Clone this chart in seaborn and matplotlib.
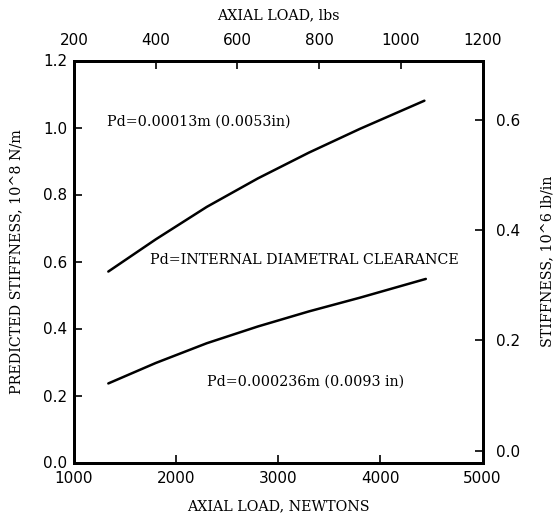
import matplotlib
matplotlib.use("Agg")
import matplotlib.pyplot as plt
import seaborn as sns
import pandas as pd

# Data
load_n_upper = [1336, 1800, 2300, 2800, 3300, 3800, 4431]
stiff_upper = [0.570, 0.666, 0.763, 0.848, 0.925, 0.996, 1.080]
load_n_lower = [1336, 1800, 2300, 2800, 3300, 3800, 4445]
stiff_lower = [0.236, 0.297, 0.356, 0.406, 0.451, 0.492, 0.548]

bottom_ticks = [1000, 2000, 3000, 4000, 5000]
left_ticks = [0.0, 0.2, 0.4, 0.6, 0.8, 1.0, 1.2]
top_ticks = [200, 400, 600, 800, 1000, 1200]
right_ticks = [0.0, 0.2, 0.4, 0.6]

label_upper = "Pd=0.00013m (0.0053in)"
label_mid = "Pd=INTERNAL DIAMETRAL CLEARANCE"
label_lower = "Pd=0.000236m (0.0093 in)"

df = pd.concat([
    pd.DataFrame({"load": load_n_upper, "stiff": stiff_upper, "case": "upper"}),
    pd.DataFrame({"load": load_n_lower, "stiff": stiff_lower, "case": "lower"}),
])

sns.set_style("ticks")
plt.rcParams["font.family"] = ["DejaVu Sans"]
plt.rcParams["text.color"] = "black"
plt.rcParams["axes.labelcolor"] = "black"
plt.rcParams["xtick.color"] = "black"
plt.rcParams["ytick.color"] = "black"

fig = plt.figure(figsize=(5.56, 5.17), dpi=100)
W, H = 556, 517
l, r, t, b = 74, 482.5, 60.5, 462.5
ax = fig.add_axes([l / W, 1 - b / H, (r - l) / W, (b - t) / H])

sns.lineplot(data=df, x="load", y="stiff", units="case", estimator=None,
             color="black", lw=1.8, ax=ax, legend=False, sort=False)

ax.set_xlim(1000, 5000)
ax.set_ylim(0, 1.2)
ax.set_xticks(bottom_ticks)
ax.set_xticklabels([str(v) for v in bottom_ticks])
ax.set_yticks(left_ticks)
ax.set_yticklabels([f"{v:.1f}" for v in left_ticks])

serif = "DejaVu Serif"
tick_fs = 11
lab_fs = 10.3

for s in ax.spines.values():
    s.set_linewidth(2)
    s.set_color("black")

ax.tick_params(axis="x", direction="in", length=6, width=1.2, pad=6,
               labelsize=tick_fs, top=False)
ax.tick_params(axis="y", direction="in", length=6, width=1.2, pad=5,
               labelsize=tick_fs, right=False)
ax.set_xlabel("AXIAL LOAD, NEWTONS", family=serif, fontsize=lab_fs, labelpad=10)
ax.set_ylabel("PREDICTED STIFFNESS, 10^8 N/m", family=serif, fontsize=lab_fs, labelpad=14)

# secondary axes
ax_top = ax.twiny()
ax_top.set_xlim(200, 1200)
ax_top.set_xticks(top_ticks)
ax_top.set_xticklabels([str(v) for v in top_ticks])
ax_top.tick_params(axis="x", direction="in", length=6, width=1.2, pad=9,
                   labelsize=tick_fs)
ax_top.set_xlabel("AXIAL LOAD, lbs", family=serif, fontsize=lab_fs, labelpad=10)

ax_right = ax.twinx()
r_per_px = 1 / 552.0
ax_right.set_ylim(-(b - 450.7) * r_per_px, (450.7 - t) * r_per_px)
ax_right.set_yticks(right_ticks)
ax_right.set_yticklabels([f"{v:.1f}" for v in right_ticks])
ax_right.tick_params(axis="y", direction="in", length=6, width=1.2, pad=10,
                     labelsize=tick_fs)
ax_right.set_ylabel("STIFFNESS, 10^6 lb/in", family=serif, fontsize=lab_fs, labelpad=14)

for a in (ax_top, ax_right):
    for s in a.spines.values():
        s.set_linewidth(2)
        s.set_color("black")

ax.text(1323, 1.016, label_upper, family=serif, fontsize=lab_fs, va="center", ha="left")
ax.text(1744, 0.604, label_mid, family=serif, fontsize=lab_fs, va="center", ha="left")
ax.text(2303, 0.241, label_lower, family=serif, fontsize=lab_fs, va="center", ha="left")

fig.savefig("out.png", dpi=100)
